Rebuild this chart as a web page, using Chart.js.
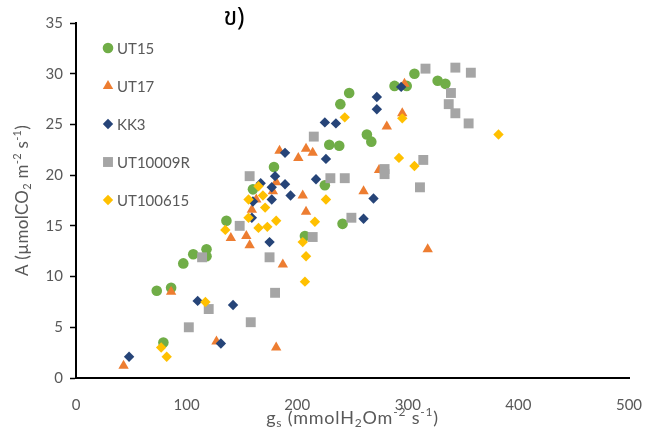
<!DOCTYPE html>
<html>
<head>
<meta charset="utf-8">
<script src="https://cdn.jsdelivr.net/npm/chart.js@4/dist/chart.umd.min.js"></script>
<style>
  html, body { margin: 0; padding: 0; background: #fff; }
  #wrap { width: 664px; height: 432px; }
</style>
</head>
<body>
<div id="wrap"><canvas id="myChart" width="664" height="432"></canvas></div>
<script>
// values
const seriesNames = ['UT15', 'UT17', 'KK3', 'UT10009R', 'UT100615']

const ut15X = [73, 86, 97, 106, 118, 118, 79, 136, 160, 179, 207, 225, 229, 238, 239, 247, 241, 263, 267, 288, 299, 306, 327, 334]
const ut15Y = [8.6, 8.9, 11.3, 12.2, 12.7, 12.0, 3.5, 15.5, 18.6, 20.8, 14.0, 19.0, 23.0, 22.9, 27.0, 28.1, 15.2, 24.0, 23.3, 28.8, 28.8, 30.0, 29.3, 29.0]

const ut17X = [43, 86, 127, 140, 154, 157, 159, 163, 178, 181, 184, 187, 181, 201, 205, 208, 208, 214, 260, 274, 281, 295, 297, 318]
const ut17Y = [1.2, 8.5, 3.6, 13.8, 14.0, 13.1, 16.6, 17.6, 18.4, 19.3, 22.4, 11.2, 3.0, 21.7, 18.0, 16.4, 22.6, 22.2, 18.4, 20.5, 24.8, 26.1, 29.0, 12.7]

const kk3X = [48, 110, 131, 142, 159, 160, 167, 175, 177, 177, 180, 189, 189, 194, 217, 225, 226, 235, 260, 269, 272, 272, 294]
const kk3Y = [2.1, 7.6, 3.4, 7.2, 15.8, 17.4, 19.2, 13.4, 18.8, 17.6, 19.9, 22.2, 19.1, 18.0, 19.6, 25.2, 21.6, 25.1, 15.7, 17.7, 27.7, 26.5, 28.7]

const ut10009rX = [102, 114, 120, 148, 157, 158, 175, 180, 214, 215, 230, 243, 249, 279, 279, 311, 314, 316, 337, 339, 343, 343, 355, 357]
const ut10009rY = [5.0, 11.9, 6.8, 15.0, 19.9, 5.5, 11.9, 8.4, 13.9, 23.8, 19.7, 19.7, 15.8, 20.6, 20.1, 18.8, 21.5, 30.5, 27.0, 28.1, 30.6, 26.1, 25.1, 30.1]

const ut100615X = [77, 82, 117, 135, 156, 156, 165, 165, 169, 171, 173, 181, 205, 207, 208, 216, 226, 243, 292, 295, 306, 382]
const ut100615Y = [3.0, 2.1, 7.5, 14.6, 17.6, 15.8, 18.9, 14.8, 18.0, 16.8, 14.9, 15.5, 13.4, 9.5, 12.0, 15.4, 17.6, 25.7, 21.7, 25.6, 20.9, 24.0]

const xTicks = [0, 100, 200, 300, 400, 500]
const yTicks = [0, 5, 10, 15, 20, 25, 30, 35]

// axis titles, split so sub/superscripts can be drawn properly
const xTitleParts = [['g', 0], ['s', -1], [' (mmolH', 0], ['2', -1], ['Om', 0], ['-2', 1], [' s', 0], ['-1', 1], [')', 0]]
const yTitleParts = [['A (µmolCO', 0], ['2', -1], [' m', 0], ['-2', 1], [' s', 0], ['-1', 1], [')', 0]]

const toPoints = (xs, ys) => xs.map((x, i) => ({ x: x, y: ys[i] }))

const textGrey = '#595959'
const fontFam = 'Lato, "Liberation Sans", sans-serif'

const styles = [
  { color: '#70AD47', pointStyle: 'circle', radius: 5.3 },
  { color: '#ED7D31', pointStyle: 'triangle', radius: 6 },
  { color: '#264478', pointStyle: 'rectRot', radius: 5.2 },
  { color: '#A5A5A5', pointStyle: 'rect', radius: 7 },
  { color: '#FFC000', pointStyle: 'rectRot', radius: 5.2 }
]

const allData = [
  toPoints(ut15X, ut15Y),
  toPoints(ut17X, ut17Y),
  toPoints(kk3X, kk3Y),
  toPoints(ut10009rX, ut10009rY),
  toPoints(ut100615X, ut100615Y)
]

const datasets = seriesNames.map((name, i) => {
  return {
    label: name,
    data: allData[i],
    pointStyle: styles[i].pointStyle,
    pointRadius: styles[i].radius,
    pointHoverRadius: styles[i].radius,
    backgroundColor: styles[i].color,
    borderColor: styles[i].color,
    borderWidth: 0,
    // later series sit on top, like the original
    order: seriesNames.length - i
  }
})

// legend inside the plot, top-left, one entry per row
const insideLegend = {
  id: 'insideLegend',
  afterDraw(chart) {
    const ctx = chart.ctx
    const area = chart.chartArea
    ctx.save()
    ctx.font = '15px ' + fontFam
    ctx.textBaseline = 'middle'
    seriesNames.forEach((name, i) => {
      const mx = area.left + 32
      const my = area.top + 25 + i * 38
      ctx.fillStyle = styles[i].color
      ctx.strokeStyle = styles[i].color
      ctx.lineWidth = 0
      Chart.helpers.drawPoint(ctx, {
        pointStyle: styles[i].pointStyle,
        radius: styles[i].radius,
        rotation: 0,
        borderWidth: 0
      }, mx, my)
      ctx.fillStyle = textGrey
      ctx.fillText(name, mx + 9, my + 1)
    })
    ctx.restore()
  }
}

function drawRich(ctx, parts, cx, cy, size, spacing) {
  const small = Math.round(size * 0.65)
  const fontOf = (lvl) => (lvl === 0 ? size : small) + 'px ' + fontFam
  ctx.letterSpacing = spacing + 'px'
  let total = 0
  parts.forEach(p => { ctx.font = fontOf(p[1]); total += ctx.measureText(p[0]).width })
  let x = cx - total / 2
  parts.forEach(p => {
    ctx.font = fontOf(p[1])
    const dy = p[1] === 0 ? 0 : (p[1] < 0 ? size * 0.28 : -size * 0.32)
    ctx.fillText(p[0], x, cy + dy)
    x += ctx.measureText(p[0]).width
  })
  ctx.letterSpacing = '0px'
}

const axisTitles = {
  id: 'axisTitles',
  afterDraw(chart) {
    const ctx = chart.ctx
    const area = chart.chartArea
    ctx.save()
    ctx.fillStyle = textGrey
    ctx.textAlign = 'left'
    ctx.textBaseline = 'middle'
    drawRich(ctx, xTitleParts, (area.left + area.right) / 2, 418, 18, 0.8)
    ctx.translate(23, (area.top + area.bottom) / 2)
    ctx.rotate(-Math.PI / 2)
    drawRich(ctx, yTitleParts, 0, 0, 17, 0.3)
    ctx.restore()
  }
}

// the "ข)" heading, sits a bit left of centre above the plot
const thaiHeading = {
  id: 'thaiHeading',
  afterDraw(chart) {
    const ctx = chart.ctx
    const area = chart.chartArea
    ctx.save()
    ctx.font = '25px "Noto Sans Thai", "Noto Sans Thai UI", "Noto Sans", "DejaVu Sans", sans-serif'
    ctx.fillStyle = '#000'
    ctx.textAlign = 'center'
    ctx.textBaseline = 'middle'
    ctx.fillText('ข)', area.left + 158, 20)
    ctx.restore()
  }
}

const ctx = document.getElementById('myChart').getContext('2d')

const chart = new Chart(ctx, {
  type: 'scatter',
  data: { datasets: datasets },
  options: {
    responsive: false,
    animation: false,
    devicePixelRatio: 1,
    layout: {
      padding: { left: 0, right: 35, top: 23, bottom: 0 }
    },
    plugins: {
      legend: { display: false },
      tooltip: { enabled: false }
    },
    scales: {
      x: {
        type: 'linear',
        min: 0,
        max: 500,
        afterFit: (scale) => { scale.height = 54 },
        afterBuildTicks: (scale) => { scale.ticks = xTicks.map(v => ({ value: v })) },
        grid: { display: false },
        border: { display: true, color: '#000', width: 2 },
        ticks: {
          color: textGrey,
          font: { size: 15, family: fontFam },
          padding: 10,
          maxRotation: 0
        },
        title: { display: false }
      },
      y: {
        type: 'linear',
        min: 0,
        max: 35,
        afterFit: (scale) => { scale.width = 76 },
        afterBuildTicks: (scale) => { scale.ticks = yTicks.map(v => ({ value: v })) },
        grid: {
          display: true,
          drawOnChartArea: false,
          drawTicks: true,
          tickLength: 6,
          tickWidth: 1.5,
          tickColor: '#000'
        },
        border: { display: true, color: '#000', width: 2 },
        ticks: {
          color: textGrey,
          font: { size: 15, family: fontFam },
          padding: 7
        },
        title: { display: false }
      }
    }
  },
  plugins: [insideLegend, axisTitles, thaiHeading]
})
</script>
</body>
</html>
